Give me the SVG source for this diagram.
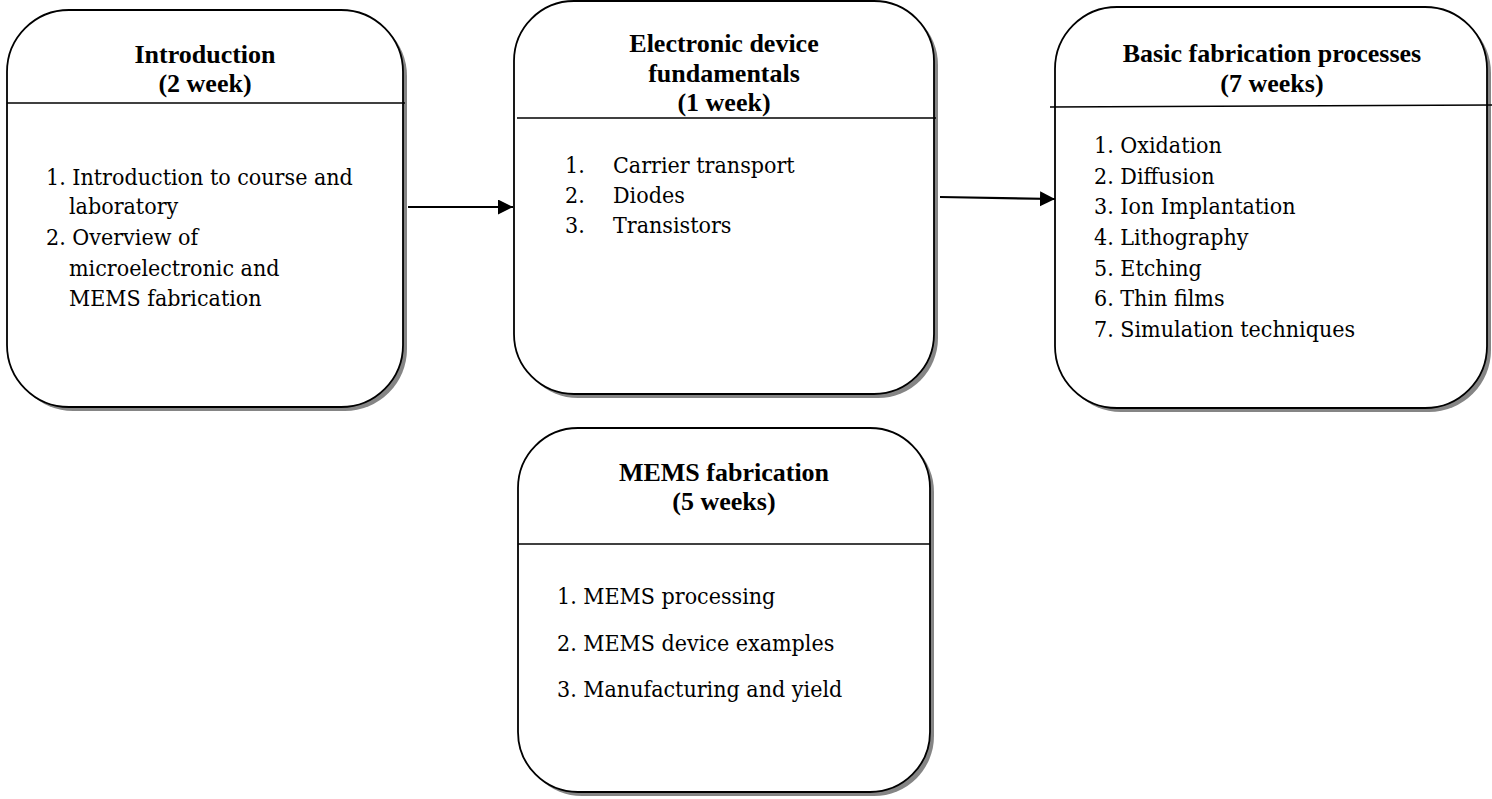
<svg xmlns="http://www.w3.org/2000/svg" width="1492" height="799" viewBox="0 0 1492 799">
  <style>
    .shadow { fill: #858585; stroke: none; }
    .box { fill: #ffffff; stroke: #000000; stroke-width: 1.8; }
    .divider { stroke: #000000; stroke-width: 1.6; }
    text { font-family: "DejaVu Serif Condensed", "DejaVu Serif", serif; font-stretch: condensed; font-size: 23px; fill: #000000; }
    .title { font-family: "Liberation Serif", serif; font-stretch: normal; font-size: 26px; font-weight: 700; text-anchor: middle; }
    .link { stroke: #000000; stroke-width: 2.2; fill: none; }
  </style>
  <defs>
    <marker id="arrowhead" markerUnits="userSpaceOnUse" markerWidth="16" markerHeight="16" refX="15" refY="7.5" orient="auto">
      <path d="M0,0 L15,7.5 L0,15 Z" fill="#000000"/>
    </marker>
  </defs>

  <rect width="1492" height="799" fill="#ffffff"/>

  <!-- Introduction -->
  <g id="node-introduction">
    <rect class="shadow" x="11" y="14" width="396" height="397" rx="62" ry="62"/>
    <rect class="box" x="7" y="10" width="396" height="397" rx="62" ry="62"/>
    <line class="divider" x1="7" y1="103" x2="405" y2="103"/>
    <text class="title" x="205" y="63">Introduction</text>
    <text class="title" x="205" y="92">(2 week)</text>
    <text x="46" y="185">1. Introduction to course and</text>
    <text x="69" y="214">laboratory</text>
    <text x="46" y="245">2. Overview of</text>
    <text x="69" y="276">microelectronic and</text>
    <text x="69" y="306">MEMS fabrication</text>
  </g>

  <!-- Electronic device fundamentals -->
  <g id="node-electronic-device">
    <rect class="shadow" x="518" y="5" width="420" height="393" rx="60" ry="60"/>
    <rect class="box" x="514" y="1" width="420" height="393" rx="60" ry="60"/>
    <line class="divider" x1="517" y1="118" x2="936" y2="118"/>
    <text class="title" x="724" y="52">Electronic device</text>
    <text class="title" x="724" y="82">fundamentals</text>
    <text class="title" x="724" y="111">(1 week)</text>
    <text x="565" y="173">1.</text>
    <text x="613" y="173">Carrier transport</text>
    <text x="565" y="203">2.</text>
    <text x="613" y="203">Diodes</text>
    <text x="565" y="233">3.</text>
    <text x="613" y="233">Transistors</text>
  </g>

  <!-- Basic fabrication processes -->
  <g id="node-basic-fabrication">
    <rect class="shadow" x="1059" y="11" width="432" height="401" rx="62" ry="62"/>
    <rect class="box" x="1055" y="7" width="432" height="401" rx="62" ry="62"/>
    <line class="divider" x1="1050" y1="107" x2="1492" y2="105"/>
    <text class="title" x="1272" y="62">Basic fabrication processes</text>
    <text class="title" x="1272" y="92">(7 weeks)</text>
    <text x="1094" y="153">1. Oxidation</text>
    <text x="1094" y="184">2. Diffusion</text>
    <text x="1094" y="214">3. Ion Implantation</text>
    <text x="1094" y="245">4. Lithography</text>
    <text x="1094" y="276">5. Etching</text>
    <text x="1094" y="306">6. Thin films</text>
    <text x="1094" y="337">7. Simulation techniques</text>
  </g>

  <!-- MEMS fabrication -->
  <g id="node-mems-fabrication">
    <rect class="shadow" x="522" y="432" width="412" height="364" rx="60" ry="60"/>
    <rect class="box" x="518" y="428" width="412" height="364" rx="60" ry="60"/>
    <line class="divider" x1="518" y1="544" x2="930" y2="544"/>
    <text class="title" x="724" y="481">MEMS fabrication</text>
    <text class="title" x="724" y="510">(5 weeks)</text>
    <text x="557" y="604">1. MEMS processing</text>
    <text x="557" y="651">2. MEMS device examples</text>
    <text x="557" y="697">3. Manufacturing and yield</text>
  </g>

  <!-- Connectors -->
  <g id="connectors">
    <line class="link" x1="408" y1="207" x2="513" y2="207" marker-end="url(#arrowhead)"/>
    <line class="link" x1="940" y1="197" x2="1055" y2="199" marker-end="url(#arrowhead)"/>
  </g>
</svg>
